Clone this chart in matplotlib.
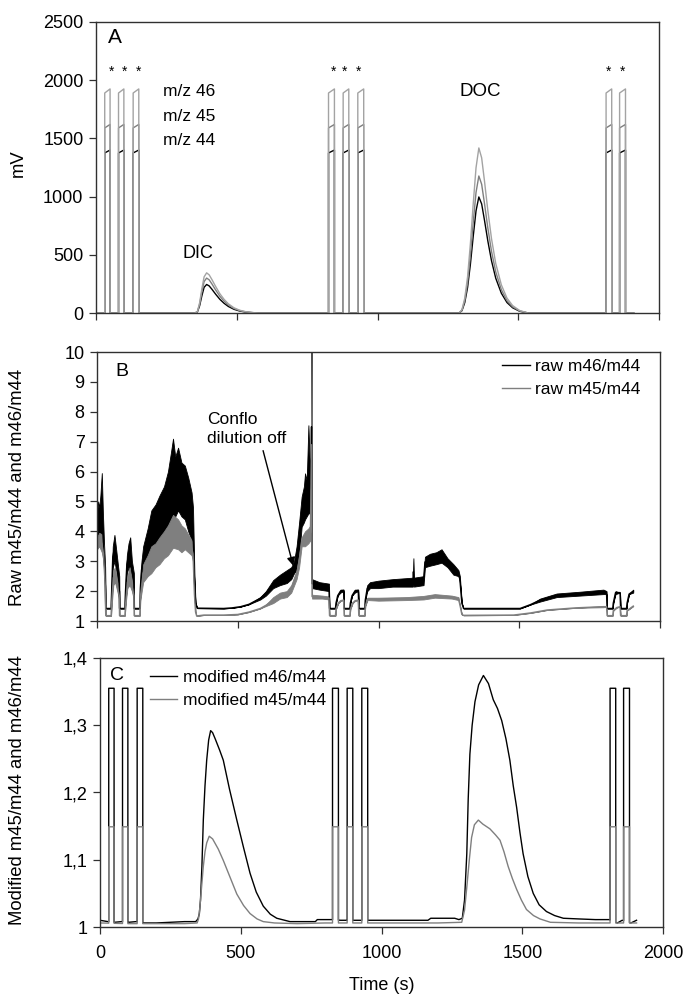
import numpy as np
import matplotlib
matplotlib.use("Agg")
import matplotlib.pyplot as plt

plt.rcParams['font.family'] = ['Liberation Sans', 'DejaVu Sans']

# ---------------- data ----------------
# reference-gas pulse windows (s)
pulse_on = [31, 80, 132, 826, 878, 930, 1812, 1860]
pulse_off = [50, 99, 152, 847, 898, 951, 1832, 1881]
star_t = [56, 101, 150, 842, 884, 934, 1822, 1869]

# Panel A: pulse plateau heights (left, right) in mV
pulseA_m44 = (1375, 1400)
pulseA_m45 = (1590, 1620)
pulseA_m46 = (1890, 1925)

# DIC and DOC peak profiles (normalised) and peak heights (mV)
dic_t = [350, 360, 368, 376, 384, 393, 402, 412, 425, 440, 455, 470, 490, 510, 530, 550, 575]
dic_shape = [0, 0.03, 0.25, 0.6, 0.9, 1.0, 0.95, 0.83, 0.66, 0.48, 0.34, 0.23, 0.13, 0.07, 0.035, 0.015, 0]
doc_t = [1290, 1300, 1310, 1320, 1330, 1340, 1350, 1360, 1370, 1380, 1392, 1405, 1420, 1440, 1460, 1480, 1505, 1535]
doc_shape = [0, 0.02, 0.09, 0.22, 0.42, 0.66, 0.88, 1.0, 0.94, 0.8, 0.62, 0.45, 0.3, 0.17, 0.09, 0.045, 0.015, 0]
dic_height = {'m44': 245, 'm45': 300, 'm46': 345}
doc_height = {'m44': 997, 'm45': 1177, 'm46': 1418}
run_end = 1910

# Panel B: raw ratios (time, lower, upper envelope of the noisy trace)
B46 = [(0, 3.9, 4.6), (4, 3.8, 5.0), (8, 3.6, 4.8), (12, 3.7, 5.2), (17, 3.8, 5.95), (21, 3.3, 4.6),
       (25, 2.8, 3.6), (29, 2.2, 2.8), (31, 1.42, 1.42), (50, 1.42, 1.42), (52, 1.8, 2.2), (56, 2.8, 3.5),
       (62, 3.0, 3.88), (68, 2.7, 3.4), (74, 2.3, 2.9), (79, 2.0, 2.5), (80, 1.42, 1.42), (99, 1.42, 1.42),
       (101, 1.8, 2.1), (106, 2.6, 3.2), (112, 2.8, 3.6), (118, 2.6, 3.8), (124, 2.4, 3.0), (131, 2.0, 2.6),
       (132, 1.42, 1.42), (152, 1.42, 1.42), (154, 1.9, 2.3), (158, 2.4, 3.0), (164, 2.6, 3.5),
       (180, 3.0, 4.1), (193, 3.3, 4.7), (208, 3.5, 4.9), (222, 3.7, 5.2), (238, 3.9, 5.5), (252, 4.2, 6.0),
       (262, 4.3, 6.6), (270, 4.4, 7.1), (278, 4.5, 6.5), (288, 4.7, 6.8), (300, 4.5, 6.3), (312, 4.4, 6.2),
       (324, 4.0, 5.8), (336, 3.7, 5.3), (341, 3.5, 4.8), (346, 2.2, 2.6), (350, 1.6, 1.6), (356, 1.43, 1.43),
       (450, 1.42, 1.42), (480, 1.44, 1.44), (510, 1.48, 1.48), (540, 1.56, 1.56), (560, 1.64, 1.68),
       (580, 1.72, 1.80), (600, 1.85, 2.0), (626, 2.1, 2.37), (650, 2.2, 2.55), (674, 2.27, 2.7),
       (690, 2.4, 2.8), (700, 2.6, 3.0), (709, 2.7, 3.5), (718, 3.2, 4.3), (727, 4.15, 5.16), (735, 4.3, 5.5),
       (739, 4.4, 5.94), (745, 4.5, 5.7), (751, 4.6, 7.55), (756, 4.6, 6.2), (760, 4.8, 6.5), (762, 5.0, 10.0),
       (764, 2.1, 2.4), (790, 2.05, 2.3), (824, 2.0, 2.25), (826, 1.42, 1.42), (847, 1.42, 1.42),
       (849, 1.6, 1.6), (855, 1.85, 1.85), (865, 1.95, 2.05), (876, 2.0, 2.05), (878, 1.42, 1.42),
       (898, 1.42, 1.42), (900, 1.6, 1.6), (906, 1.85, 1.85), (916, 1.95, 2.05), (928, 2.0, 2.05),
       (930, 1.42, 1.42), (951, 1.42, 1.42), (953, 1.7, 1.7), (960, 2.0, 2.2), (970, 2.1, 2.3),
       (1000, 2.1, 2.35), (1050, 2.15, 2.4), (1122, 2.15, 2.45), (1124, 2.2, 3.1), (1126, 2.15, 2.45),
       (1160, 2.2, 2.5), (1165, 2.8, 3.15), (1183, 2.85, 3.25), (1205, 2.9, 3.3), (1224, 2.95, 3.4),
       (1245, 2.8, 3.1), (1266, 2.55, 2.9), (1284, 2.5, 2.7), (1289, 2.3, 2.5), (1296, 1.6, 1.6),
       (1302, 1.42, 1.42), (1503, 1.42, 1.42), (1540, 1.55, 1.55), (1574, 1.65, 1.75), (1633, 1.8, 1.92),
       (1716, 1.85, 1.98), (1799, 1.9, 2.05), (1810, 1.9, 2.0), (1812, 1.42, 1.42), (1832, 1.42, 1.42),
       (1834, 1.6, 1.6), (1842, 1.9, 2.0), (1858, 1.95, 1.95), (1860, 1.42, 1.42), (1881, 1.42, 1.42),
       (1883, 1.6, 1.6), (1890, 1.9, 1.9), (1905, 1.95, 2.05)]
B45 = [(0, 3.4, 3.8), (8, 3.5, 3.95), (17, 3.3, 3.9), (23, 3.0, 3.5), (29, 2.0, 2.4), (31, 1.18, 1.18),
       (50, 1.18, 1.18), (52, 1.5, 1.7), (58, 2.2, 2.7), (64, 2.3, 2.8), (72, 2.0, 2.4), (79, 1.7, 2.0),
       (80, 1.18, 1.18), (99, 1.18, 1.18), (101, 1.5, 1.5), (108, 2.1, 2.5), (116, 2.2, 2.8), (124, 2.0, 2.4),
       (131, 1.7, 2.0), (132, 1.18, 1.18), (152, 1.18, 1.18), (154, 1.7, 1.9), (164, 2.3, 2.9),
       (180, 2.5, 3.2), (193, 2.6, 3.5), (208, 2.8, 3.6), (222, 2.9, 3.8), (238, 3.1, 4.0), (252, 3.2, 4.2),
       (270, 3.45, 4.55), (288, 3.4, 4.4), (300, 3.3, 4.2), (312, 3.4, 4.1), (324, 3.3, 3.9), (336, 3.2, 3.7),
       (341, 3.0, 3.5), (346, 1.8, 2.0), (350, 1.3, 1.3), (354, 1.17, 1.17), (380, 1.2, 1.2), (450, 1.2, 1.2),
       (500, 1.22, 1.22), (540, 1.3, 1.3), (580, 1.42, 1.42), (600, 1.5, 1.55), (626, 1.6, 1.8),
       (650, 1.75, 1.95), (674, 1.8, 2.0), (690, 1.95, 2.2), (709, 2.4, 2.7), (718, 2.8, 3.2),
       (727, 3.5, 3.8), (739, 3.5, 4.0), (751, 3.6, 4.1), (758, 3.7, 4.2), (762, 3.8, 10.0),
       (764, 1.75, 1.88), (800, 1.75, 1.85), (824, 1.72, 1.82), (826, 1.18, 1.18), (847, 1.18, 1.18),
       (849, 1.4, 1.4), (857, 1.6, 1.6), (866, 1.68, 1.68), (876, 1.7, 1.7), (878, 1.18, 1.18),
       (898, 1.18, 1.18), (900, 1.4, 1.4), (908, 1.6, 1.6), (917, 1.68, 1.68), (928, 1.7, 1.7),
       (930, 1.18, 1.18), (951, 1.18, 1.18), (953, 1.5, 1.5), (961, 1.7, 1.78), (1000, 1.68, 1.78),
       (1100, 1.7, 1.8), (1160, 1.72, 1.84), (1200, 1.78, 1.9), (1260, 1.75, 1.85), (1284, 1.7, 1.8),
       (1290, 1.5, 1.5), (1296, 1.22, 1.22), (1302, 1.19, 1.19), (1480, 1.2, 1.2), (1540, 1.27, 1.27),
       (1600, 1.37, 1.37), (1700, 1.44, 1.44), (1799, 1.46, 1.5), (1810, 1.48, 1.48), (1812, 1.18, 1.18),
       (1832, 1.18, 1.18), (1834, 1.35, 1.35), (1846, 1.45, 1.45), (1858, 1.48, 1.48), (1860, 1.18, 1.18),
       (1881, 1.18, 1.18), (1883, 1.35, 1.35), (1905, 1.5, 1.5)]

# Panel C: modified ratios outside the reference pulses (time, value)
C46 = [(0, 1.010), (28, 1.008), (52, 1.007), (77, 1.008), (101, 1.007), (128, 1.008), (155, 1.006),
       (200, 1.006), (250, 1.007), (300, 1.008), (340, 1.008), (348, 1.012), (353, 1.02), (357, 1.04),
       (362, 1.09), (367, 1.159), (373, 1.21), (379, 1.248), (386, 1.278), (393, 1.292), (400, 1.289),
       (410, 1.279), (425, 1.263), (438, 1.248), (460, 1.205), (486, 1.159), (510, 1.118), (533, 1.080),
       (555, 1.052), (580, 1.031), (605, 1.019), (628, 1.013), (675, 1.008), (720, 1.008), (765, 1.008),
       (772, 1.011), (822, 1.011), (855, 1.010), (875, 1.010), (903, 1.010), (926, 1.010), (956, 1.010),
       (1000, 1.010), (1100, 1.010), (1165, 1.010), (1175, 1.013), (1260, 1.013), (1275, 1.011),
       (1287, 1.013), (1295, 1.04), (1303, 1.109), (1308, 1.19), (1314, 1.257), (1322, 1.30), (1332, 1.335),
       (1345, 1.36), (1362, 1.374), (1380, 1.362), (1397, 1.338), (1412, 1.325), (1427, 1.307),
       (1442, 1.28), (1456, 1.248), (1468, 1.21), (1480, 1.178), (1492, 1.14), (1503, 1.109),
       (1520, 1.075), (1539, 1.050), (1560, 1.033), (1586, 1.023), (1615, 1.017), (1646, 1.013),
       (1700, 1.012), (1760, 1.011), (1808, 1.011), (1838, 1.006), (1855, 1.01), (1886, 1.006), (1906, 1.01)]
C45 = [(0, 1.006), (100, 1.005), (200, 1.005), (300, 1.005), (345, 1.006), (350, 1.012), (355, 1.03),
       (361, 1.06), (367, 1.09), (373, 1.112), (379, 1.125), (388, 1.135), (400, 1.131), (420, 1.116),
       (438, 1.099), (462, 1.074), (486, 1.049), (510, 1.032), (533, 1.020), (558, 1.012), (580, 1.008),
       (620, 1.006), (700, 1.005), (800, 1.006), (1000, 1.006), (1200, 1.006), (1285, 1.007), (1295, 1.025),
       (1303, 1.059), (1312, 1.10), (1320, 1.133), (1330, 1.152), (1344, 1.159), (1360, 1.153),
       (1385, 1.146), (1405, 1.137), (1421, 1.129), (1435, 1.112), (1450, 1.090), (1465, 1.072),
       (1480, 1.056), (1497, 1.04), (1515, 1.026), (1540, 1.017), (1563, 1.012), (1600, 1.007),
       (1700, 1.006), (1800, 1.006), (1906, 1.006)]
pulseC_m46 = 1.355
pulseC_m45 = 1.149

C_yticks = [1.0, 1.1, 1.2, 1.3, 1.4]
C_yticklabels = ['1', '1,1', '1,2', '1,3', '1,4']
x_ticks = [0, 500, 1000, 1500, 2000]

BLACK = '#000000'
GREY45 = '#7f7f7f'
GREY46 = '#a3a3a3'
SPINE = '#303030'


def insert_pulses(t, v, top_left, top_right):
    t = np.asarray(t, float)
    v = np.asarray(v, float)
    tt, vv = list(t), list(v)
    for on, off in zip(pulse_on, pulse_off):
        b_on = np.interp(on, t, v)
        b_off = np.interp(off, t, v)
        keep = [(a, b) for a, b in zip(tt, vv) if a < on or a > off]
        keep += [(on, b_on), (on + 0.01, top_left), (off - 0.01, top_right), (off, b_off)]
        keep.sort(key=lambda p: p[0])
        tt = [p[0] for p in keep]
        vv = [p[1] for p in keep]
    return np.array(tt), np.array(vv)


def trace_A(name, ph):
    t = [0] + dic_t + doc_t + [run_end]
    v = [0] + [s * dic_height[name] for s in dic_shape] + [s * doc_height[name] for s in doc_shape] + [0]
    return insert_pulses(t, v, ph[0], ph[1])


fig = plt.figure(figsize=(6.88, 9.97), dpi=100)
W, H = 688.0, 997.0


def axes_px(l, r, top, bot):
    return fig.add_axes([l / W, 1 - bot / H, (r - l) / W, (bot - top) / H])


axA = axes_px(96, 659, 22, 313)
axB = axes_px(97, 660, 352, 621)
axC = axes_px(100, 663, 658, 927)

for ax in (axA, axB, axC):
    for s in ax.spines.values():
        s.set_color(SPINE)
        s.set_linewidth(1.0)
    ax.tick_params(direction='out', length=5, width=0.9, color=SPINE, labelsize=13, pad=4)
    ax.set_xlim(0, 2000)
    ax.set_xticks(x_ticks)

# ---- Panel A ----
for name, ph, col in (('m44', pulseA_m44, BLACK), ('m45', pulseA_m45, GREY45), ('m46', pulseA_m46, GREY46)):
    t, v = trace_A(name, ph)
    axA.plot(t, v, color=col, lw=1.0)
axA.set_ylim(0, 2500)
axA.set_yticks([0, 500, 1000, 1500, 2000, 2500])
axA.set_xticklabels([])
axA.text(43, 2371, 'A', fontsize=15, ha='left', va='center')
for tt in star_t:
    axA.text(tt, 2040, '*', fontsize=10, ha='center', va='baseline')
axA.text(238, 1899, 'm/z 46', fontsize=12.5, ha='left', va='center')
axA.text(238, 1692, 'm/z 45', fontsize=12.5, ha='left', va='center')
axA.text(238, 1486, 'm/z 44', fontsize=12.5, ha='left', va='center')
axA.text(362, 515, 'DIC', fontsize=13, ha='center', va='center')
axA.text(1364, 1899, 'DOC', fontsize=13.5, ha='center', va='center')

# ---- Panel B ----
for data, col, lab in ((B46, BLACK, 'raw m46/m44'), (B45, GREY45, 'raw m45/m44')):
    arr = np.array(data, float)
    axB.fill_between(arr[:, 0], arr[:, 1], arr[:, 2], color=col, lw=0.6, edgecolor=col)
    axB.plot(arr[:, 0], (arr[:, 1] + arr[:, 2]) / 2, color=col, lw=1.0, label=lab)
axB.set_ylim(1, 10)
axB.set_yticks(range(1, 11))
axB.set_xticklabels([])
axB.text(64, 9.36, 'B', fontsize=14, ha='left', va='center')
axB.text(391, 7.42, 'Conflo\ndilution off', fontsize=12.5, ha='left', va='center', linespacing=1.3)
axB.annotate('', xy=(697, 2.85), xytext=(590, 6.7),
             arrowprops=dict(arrowstyle='-|>', color='black', lw=1.0, mutation_scale=12,
                             shrinkA=0, shrinkB=0))
axB.legend(loc='upper right', bbox_to_anchor=(0.965, 0.975), frameon=False, fontsize=12.5,
           handlelength=1.6, handletextpad=0.3, labelspacing=0.45, borderaxespad=0, borderpad=0)

# ---- Panel C ----
c46 = np.array(C46, float)
c45 = np.array(C45, float)
t46, v46 = insert_pulses(c46[:, 0], c46[:, 1], pulseC_m46, pulseC_m46)
t45, v45 = insert_pulses(c45[:, 0], c45[:, 1], pulseC_m45, pulseC_m45)
axC.plot(t46, v46, color=BLACK, lw=1.0, label='modified m46/m44')
axC.plot(t45, v45, color=GREY45, lw=1.0, label='modified m45/m44')
axC.set_ylim(1.0, 1.4)
axC.set_yticks(C_yticks)
axC.set_yticklabels(C_yticklabels)
axC.tick_params(axis='x', pad=8)
axC.text(36, 1.374, 'C', fontsize=14, ha='left', va='center')
axC.legend(loc='upper left', bbox_to_anchor=(0.088, 0.955), frameon=False, fontsize=12.5,
           handlelength=1.6, handletextpad=0.3, labelspacing=0.45, borderaxespad=0, borderpad=0)

# axis labels
fig.text(18 / W, 1 - 163 / H, 'mV', rotation=90, ha='center', va='center', fontsize=13.3)
fig.text(18 / W, 1 - 487 / H, 'Raw m45/m44 and m46/m44', rotation=90, ha='center', va='center', fontsize=13.3)
fig.text(18 / W, 1 - 790 / H, 'Modified m45/m44 and m46/m44', rotation=90, ha='center', va='center', fontsize=13.3)
fig.text(382 / W, 1 - 985 / H, 'Time (s)', ha='center', va='center', fontsize=13)

fig.savefig('out.png', dpi=100)
